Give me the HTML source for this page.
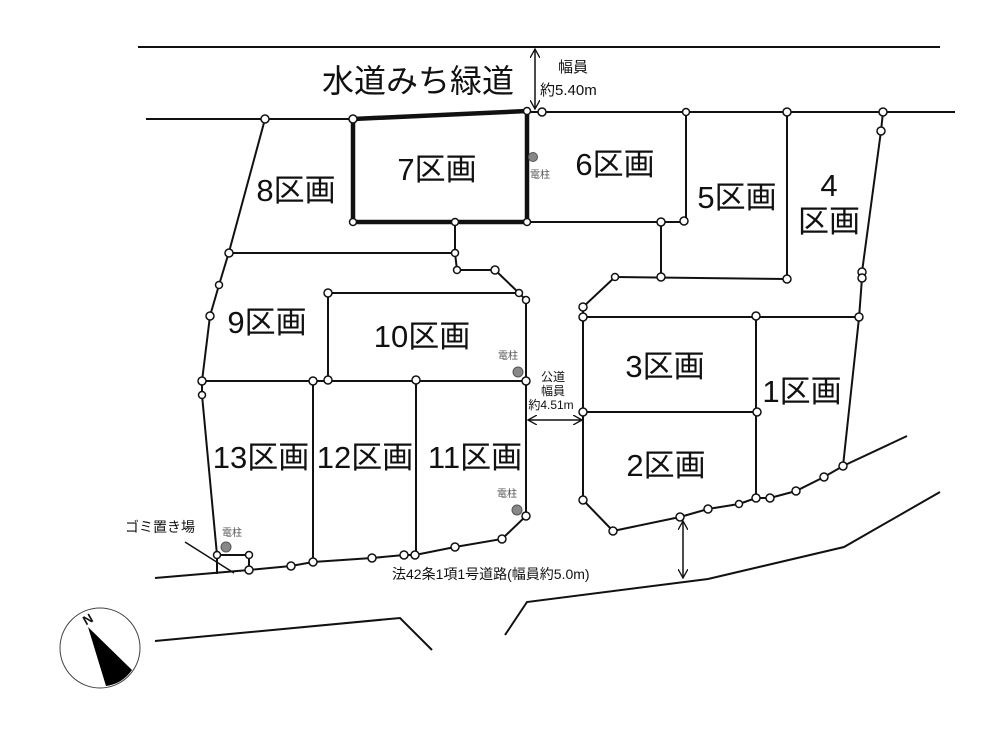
<!DOCTYPE html><html><head><meta charset="utf-8"><style>body{margin:0;background:#fff}svg{display:block}text{font-family:"Liberation Sans","Noto Sans CJK JP",sans-serif;fill:#111}</style></head><body>
<svg width="1000" height="750" viewBox="0 0 1000 750" xmlns="http://www.w3.org/2000/svg">
<defs><marker id="a" markerWidth="10" markerHeight="10" refX="9" refY="5" orient="auto-start-reverse" markerUnits="userSpaceOnUse"><path d="M0,0 L9,5 L0,10" fill="none" stroke="#111" stroke-width="1.3"/></marker></defs>
<g stroke="#111" stroke-width="2" fill="none">
<line x1="138" y1="47" x2="940" y2="47"/>
<line x1="146" y1="119" x2="353" y2="119"/>
<line x1="527" y1="112" x2="955" y2="112"/>
<polyline points="265,119 229,252 219,285 210,316 202,381 202,395 217,555"/>
<line x1="229" y1="253" x2="455" y2="253"/>
<polyline points="455,222 455,253 457,270 495,270 519,293 526,300 526,516 502,539 455,547 415,555 404,555 372,558 313,562 291,566 249,570 155,578"/>
<polyline points="328,380 328,293 519,293"/>
<line x1="202" y1="381" x2="526" y2="381"/>
<line x1="313" y1="381" x2="313" y2="562"/>
<line x1="416" y1="380" x2="416" y2="555"/>
<polyline points="217,555 249,555 249,570"/><line x1="217" y1="555" x2="217" y2="574"/>
<line x1="185" y1="542" x2="234" y2="573" stroke-width="1.5"/>
<polyline points="527,222 684,222 686,221 686,112"/>
<polyline points="661,222 661,278"/>
<polyline points="615,277 787,279 787,112"/>
<polyline points="883,112 881,131 862,272 862,278 859,318 843,466"/>
<polyline points="615,277 583,307 583,317 859,317"/>
<polyline points="583,317 583,500 613,531 680,517 708,509 739,504 756,498 770,498 796,491 824,477 843,466 907,436"/>
<line x1="583" y1="412" x2="757" y2="412"/>
<line x1="756" y1="316" x2="756" y2="498"/>
<polyline points="505,635 527,602 708,579 844,547 940,492"/>
<polyline points="155,641 400,618 432,650"/>
<line x1="535" y1="49" x2="535" y2="109" stroke-width="1.5" marker-start="url(#a)" marker-end="url(#a)"/>
<line x1="683" y1="521" x2="683" y2="578" stroke-width="1.5" marker-start="url(#a)" marker-end="url(#a)"/>
<line x1="528" y1="420" x2="582" y2="420" stroke-width="1.5" marker-start="url(#a)" marker-end="url(#a)"/>
<polygon points="353,119 527,111 527,222 353,222" stroke-width="4.5"/>
</g>
<g fill="#fff" stroke="#111" stroke-width="1.5">
<circle cx="265" cy="119" r="4"/><circle cx="353" cy="119" r="4"/><circle cx="527" cy="111" r="3.5"/><circle cx="542" cy="112" r="4"/><circle cx="353" cy="222" r="3.5"/><circle cx="527" cy="222" r="3.5"/><circle cx="455" cy="222" r="3.5"/>
<circle cx="686" cy="112" r="3.5"/><circle cx="787" cy="112" r="4"/><circle cx="883" cy="112" r="4"/><circle cx="881" cy="131" r="4"/><circle cx="661" cy="222" r="4"/><circle cx="684" cy="221" r="4"/><circle cx="661" cy="277" r="4"/><circle cx="615" cy="277" r="3.5"/><circle cx="787" cy="279" r="4"/><circle cx="862" cy="272" r="4"/><circle cx="862" cy="278" r="4"/>
<circle cx="583" cy="307" r="4"/><circle cx="583" cy="317" r="4"/><circle cx="756" cy="316" r="4"/><circle cx="859" cy="317" r="4"/><circle cx="583" cy="412" r="4"/><circle cx="757" cy="412" r="4"/><circle cx="583" cy="500" r="4"/><circle cx="613" cy="531" r="4"/><circle cx="680" cy="517" r="4"/><circle cx="708" cy="509" r="4"/><circle cx="739" cy="504" r="3.5"/><circle cx="756" cy="498" r="4"/><circle cx="770" cy="498" r="4"/><circle cx="796" cy="491" r="4"/><circle cx="824" cy="477" r="4"/><circle cx="843" cy="466" r="4"/>
<circle cx="229" cy="253" r="4"/><circle cx="219" cy="285" r="3.5"/><circle cx="210" cy="316" r="4"/><circle cx="202" cy="381" r="4"/><circle cx="202" cy="395" r="3.5"/><circle cx="455" cy="253" r="3.5"/><circle cx="457" cy="270" r="3.5"/><circle cx="495" cy="270" r="4"/><circle cx="519" cy="293" r="3.5"/><circle cx="526" cy="300" r="3.5"/><circle cx="328" cy="293" r="4"/><circle cx="328" cy="380" r="4"/><circle cx="313" cy="381" r="4"/><circle cx="416" cy="380" r="4"/><circle cx="526" cy="381" r="4"/><circle cx="526" cy="516" r="4"/><circle cx="502" cy="539" r="4"/><circle cx="455" cy="547" r="4"/><circle cx="415" cy="555" r="4"/><circle cx="404" cy="555" r="4"/><circle cx="372" cy="558" r="4"/><circle cx="313" cy="562" r="4"/><circle cx="291" cy="566" r="4"/><circle cx="249" cy="570" r="4"/><circle cx="249" cy="555" r="3.5"/><circle cx="217" cy="555" r="3.5"/>
</g>
<g fill="#888" stroke="#555" stroke-width="1"><circle cx="533" cy="157" r="4.5"/><circle cx="518" cy="372" r="5"/><circle cx="517" cy="510" r="5"/><circle cx="226" cy="547" r="5"/></g>
<g font-size="10"><text x="530" y="178" style="fill:#555">電柱</text><text x="498" y="359" style="fill:#555">電柱</text><text x="497" y="497" style="fill:#555">電柱</text><text x="222" y="536" style="fill:#555">電柱</text></g>
<text x="322" y="92" font-size="32">水道みち緑道</text>
<text x="558" y="72" font-size="15">幅員</text><text x="540" y="95" font-size="15">約5.40m</text>
<g font-size="12" text-anchor="middle"><text x="553" y="381">公道</text><text x="553" y="395">幅員</text><text x="551" y="409">約4.51m</text></g>
<text x="392" y="579" font-size="14">法42条1項1号道路(幅員約5.0m)</text>
<text x="125" y="532" font-size="14">ゴミ置き場</text>
<g font-size="31" text-anchor="middle">
<text x="437" y="180">7区画</text><text x="615" y="175">6区画</text><text x="296" y="201">8区画</text><text x="737" y="208">5区画</text><text x="829" y="196">4</text><text x="829" y="232">区画</text>
<text x="267" y="333">9区画</text><text x="422" y="347">10区画</text><text x="665" y="377">3区画</text><text x="802" y="402">1区画</text><text x="666" y="476">2区画</text>
<text x="261" y="468">13区画</text><text x="365" y="468">12区画</text><text x="475" y="468">11区画</text>
</g>
<circle cx="100" cy="648" r="40" fill="none" stroke="#444" stroke-width="1"/>
<path d="M88,627 L106,686 Q122,684 132,670 Z" fill="#000"/>
<text x="84" y="626" font-size="13" font-family="Liberation Serif" font-weight="bold" transform="rotate(-30 84 622)">N</text>
</svg></body></html>
